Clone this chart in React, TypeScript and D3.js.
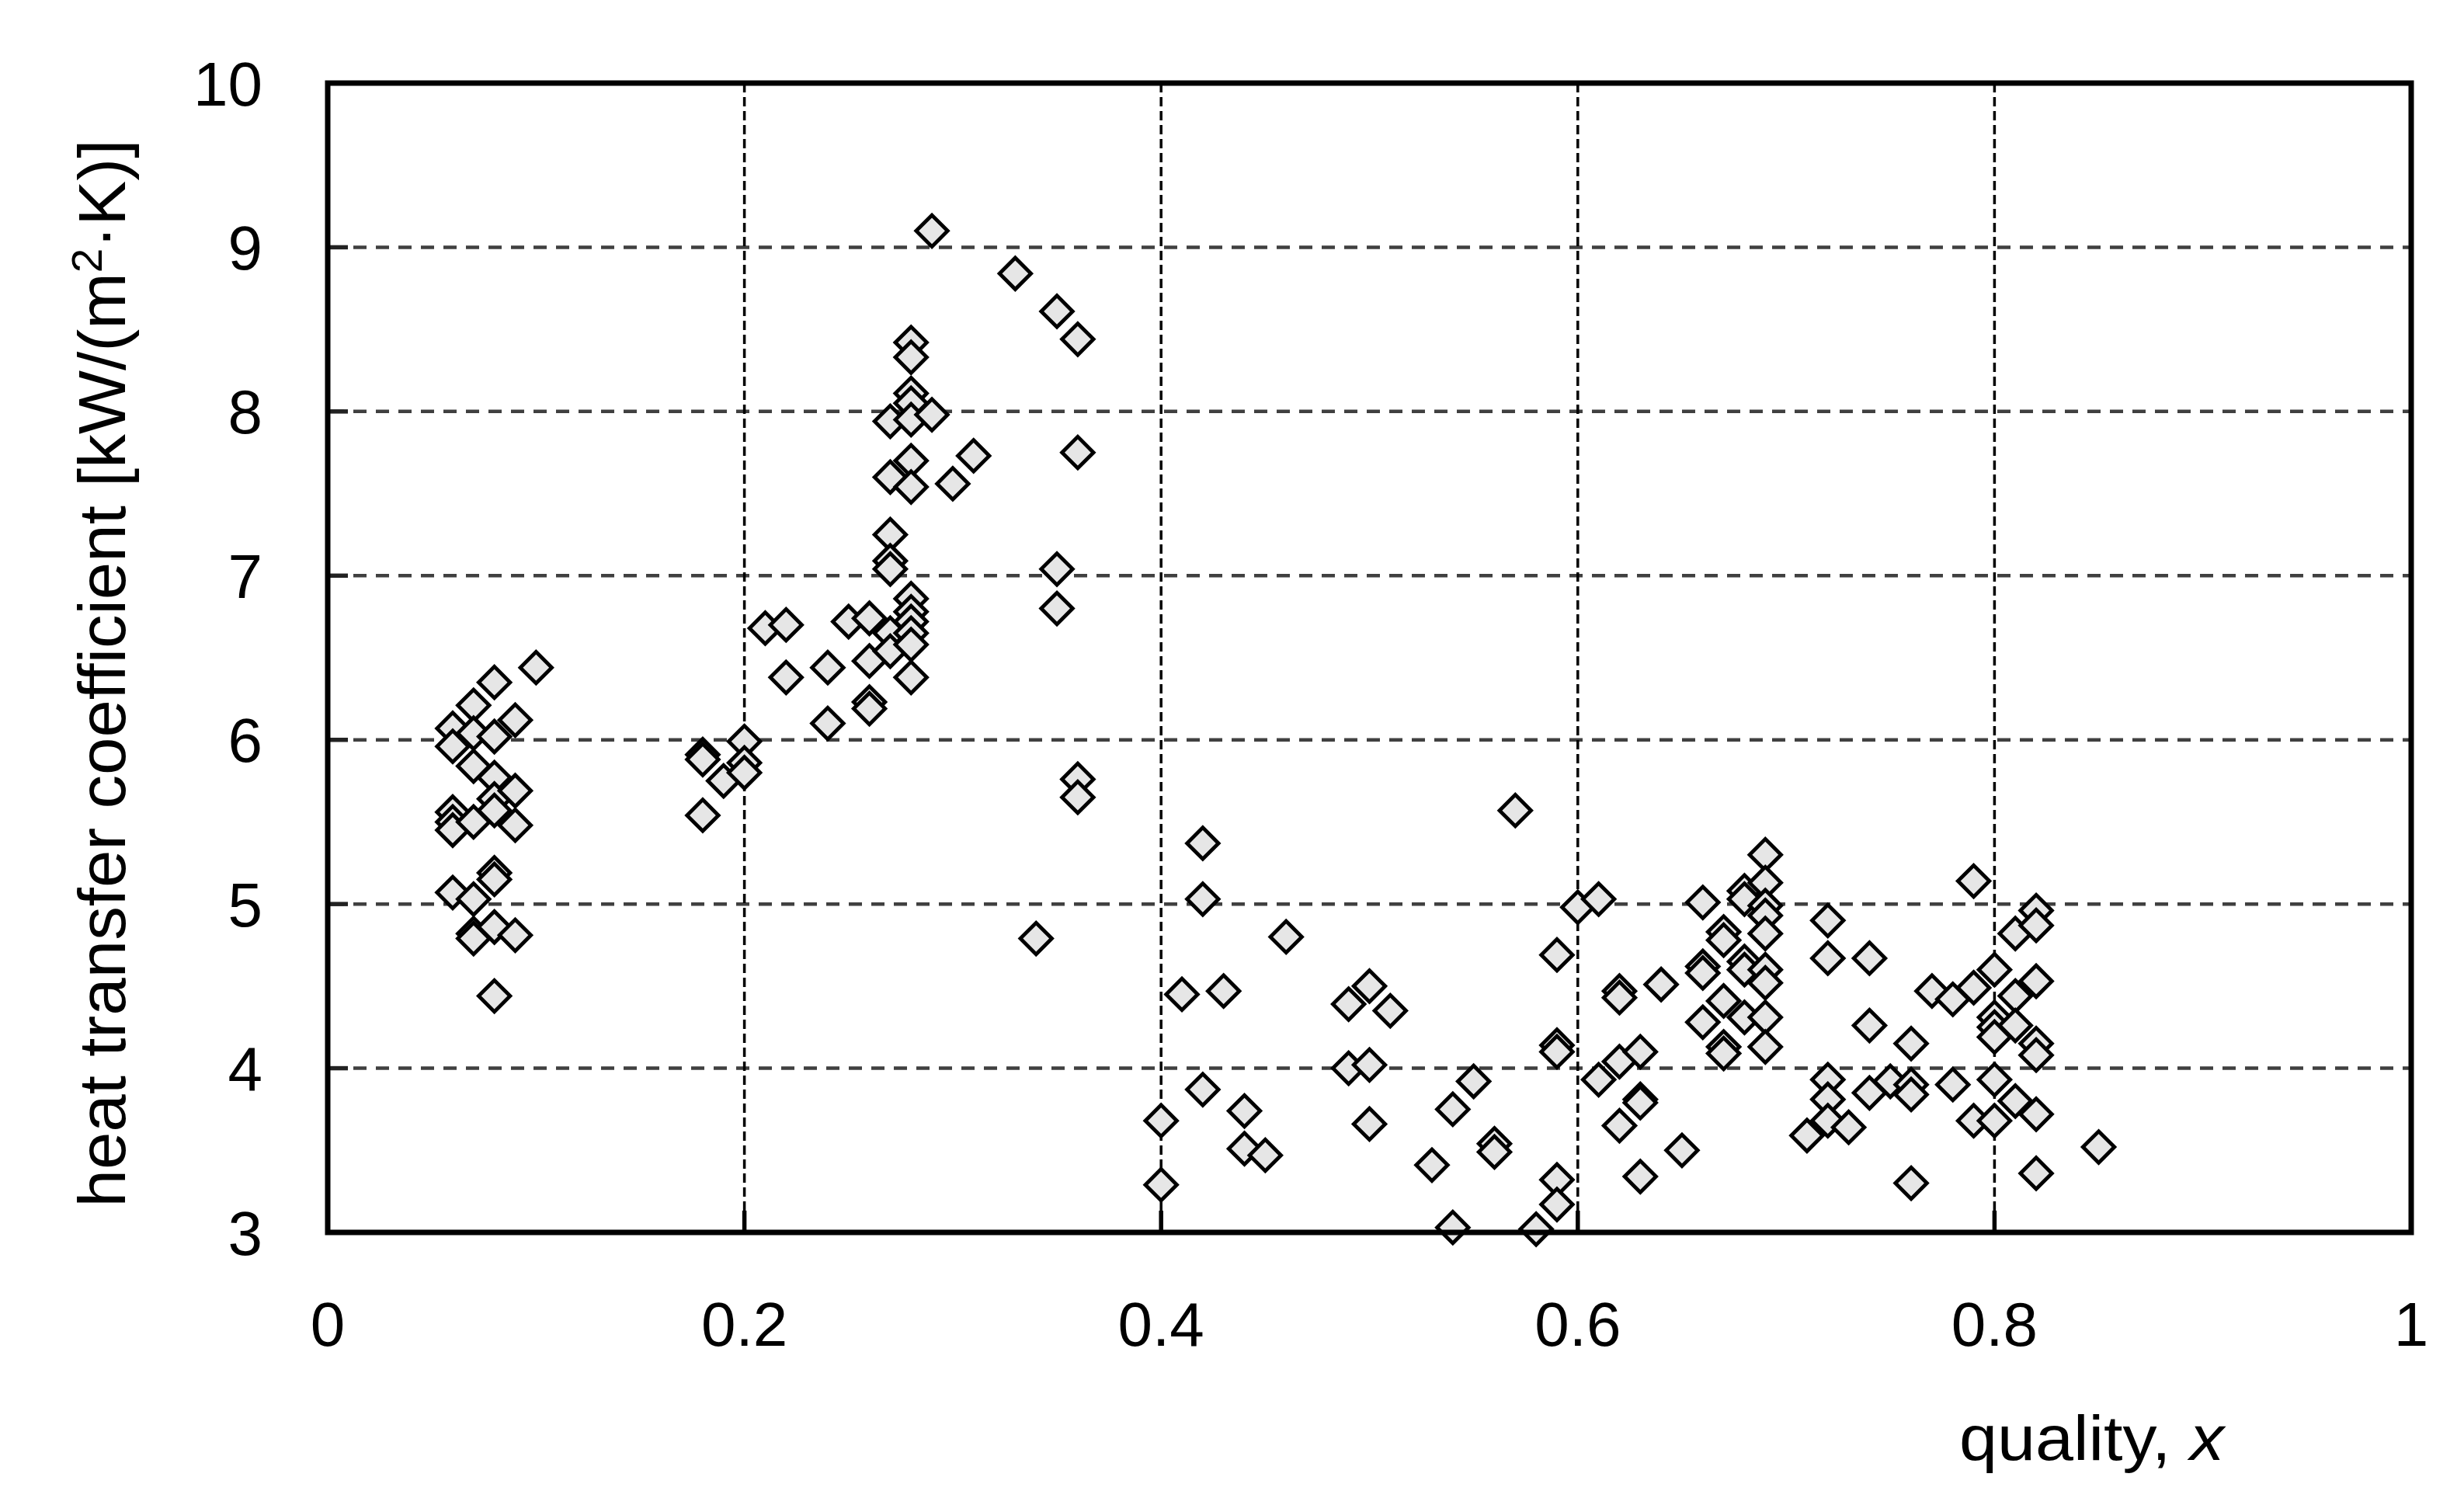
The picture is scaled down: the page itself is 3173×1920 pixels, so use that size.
import React from "react";
import * as d3 from "d3";

// quality x (discrete test qualities) and heat transfer coefficient readings
const quality: number[] = [
  0.06, 0.06, 0.06, 0.06, 0.06, 0.06,
  0.07, 0.07, 0.07, 0.07, 0.07, 0.07, 0.07,
  0.08, 0.08, 0.08, 0.08, 0.08, 0.08, 0.08, 0.08, 0.08,
  0.09, 0.09, 0.09, 0.09,
  0.10,
  0.18, 0.18, 0.18, 0.19, 0.20, 0.20, 0.20,
  0.21, 0.22, 0.22, 0.24, 0.24, 0.25,
  0.26, 0.26, 0.26, 0.26,
  0.27, 0.27, 0.27, 0.27, 0.27, 0.27, 0.27,
  0.28, 0.28, 0.28, 0.28, 0.28, 0.28, 0.28, 0.28, 0.28, 0.28, 0.28, 0.28, 0.28,
  0.29, 0.29, 0.30, 0.31, 0.33, 0.34,
  0.35, 0.35, 0.35, 0.36, 0.36, 0.36, 0.36,
  0.40, 0.40, 0.41, 0.42, 0.42, 0.42, 0.43, 0.44, 0.44, 0.45, 0.46,
  0.49, 0.49, 0.50, 0.50, 0.50, 0.51, 0.53, 0.54, 0.54, 0.55, 0.56, 0.56, 0.57, 0.58,
  0.59, 0.59, 0.59, 0.59, 0.59, 0.60, 0.61, 0.61,
  0.62, 0.62, 0.62, 0.62, 0.63, 0.63, 0.63, 0.63, 0.64, 0.65,
  0.66, 0.66, 0.66, 0.66,
  0.67, 0.67, 0.67, 0.67, 0.67,
  0.68, 0.68, 0.68, 0.68, 0.68,
  0.69, 0.69, 0.69, 0.69, 0.69, 0.69, 0.69, 0.69, 0.69,
  0.71, 0.72, 0.72, 0.72, 0.72, 0.72, 0.73,
  0.74, 0.74, 0.74, 0.75, 0.76, 0.76, 0.76, 0.76, 0.77, 0.78, 0.78,
  0.79, 0.79, 0.79,
  0.80, 0.80, 0.80, 0.80, 0.80, 0.80,
  0.81, 0.81, 0.81, 0.81,
  0.82, 0.82, 0.82, 0.82, 0.82, 0.82, 0.82,
  0.85,
];

const htc: number[] = [
  6.07, 5.96, 5.56, 5.50, 5.45, 5.07,
  6.21, 6.04, 5.84, 5.50, 5.03, 4.82, 4.79,
  6.35, 6.02, 5.77, 5.64, 5.57, 5.19, 5.15, 4.86, 4.44,
  6.12, 5.69, 5.48, 4.81,
  6.44,
  5.91, 5.88, 5.54, 5.75, 5.99, 5.86, 5.80,
  6.68, 6.70, 6.38, 6.44, 6.10, 6.72,
  6.74, 6.48, 6.23, 6.19,
  7.94, 7.60, 7.25, 7.09, 7.04, 6.65, 6.54,
  8.42, 8.33, 8.11, 8.05, 7.95, 7.70, 7.54, 6.86, 6.78, 6.72, 6.65, 6.58, 6.38,
  9.10, 7.98, 7.56, 7.73, 8.84, 4.79,
  8.61, 7.04, 6.80, 8.44, 7.75, 5.76, 5.65,
  3.68, 3.29, 4.45, 5.37, 5.03, 3.87, 4.47, 3.74, 3.51, 3.47, 4.80,
  4.39, 4.00, 4.50, 4.02, 3.66, 4.35, 3.41, 3.75, 3.03, 3.92, 3.54, 3.49, 5.57, 3.02,
  4.69, 4.14, 4.10, 3.32, 3.17, 4.98, 5.03, 3.93,
  4.47, 4.43, 4.04, 3.65, 4.10, 3.81, 3.79, 3.34, 4.51, 3.50,
  5.01, 4.62, 4.58, 4.28,
  4.83, 4.78, 4.41, 4.13, 4.09,
  5.08, 5.03, 4.65, 4.60, 4.31,
  5.30, 5.13, 4.99, 4.93, 4.82, 4.60, 4.52, 4.31, 4.13,
  3.59, 4.90, 4.67, 3.93, 3.81, 3.68, 3.64,
  4.67, 4.26, 3.85, 3.92, 4.15, 3.90, 3.84, 3.30, 4.47, 4.42, 3.90,
  5.14, 4.49, 3.68,
  4.60, 4.31, 4.25, 4.19, 3.93, 3.68,
  4.82, 4.44, 4.26, 3.80,
  4.96, 4.87, 4.53, 4.15, 4.08, 3.72, 3.36,
  3.52,
];

const xTicks: number[] = [0, 0.2, 0.4, 0.6, 0.8, 1];
const xTickLabels: string[] = ["0", "0.2", "0.4", "0.6", "0.8", "1"];
const yTicks: number[] = [3, 4, 5, 6, 7, 8, 9, 10];
const yTickLabels: string[] = ["3", "4", "5", "6", "7", "8", "9", "10"];

const W = 3173;
const H = 1920;
const FONT = "'Liberation Sans', Arial, sans-serif";

export default function App() {
  const x = d3.scaleLinear().domain([0, 1]).range([422, 3105]);
  const y = d3.scaleLinear().domain([3, 10]).range([1587, 107]);
  const [x0, x1] = x.range();
  const [y0, y1] = y.range();
  const diamond = d3.symbol(d3.symbolSquare, 820)() as string;

  return (
    <svg
      width={W}
      height={H}
      style={{ position: "absolute", left: 0, top: 0, display: "block", background: "#fff" }}
    >
      {/* horizontal gridlines */}
      {yTicks.slice(1, -1).map((v) => (
        <line
          key={"hg" + v}
          x1={x0 + 4}
          x2={x1}
          y1={y(v)}
          y2={y(v)}
          stroke="#404040"
          strokeWidth={4.5}
          strokeDasharray="17,12"
        />
      ))}
      {/* vertical gridlines */}
      {xTicks.slice(1, -1).map((v) => (
        <line
          key={"vg" + v}
          x1={x(v)}
          x2={x(v)}
          y1={y1}
          y2={y0}
          stroke="#000"
          strokeWidth={3.5}
          strokeDasharray="12,6"
        />
      ))}
      {/* data points */}
      {quality.map((q, i) => (
        <path
          key={"p" + i}
          d={diamond}
          transform={`translate(${x(q)},${y(htc[i])}) rotate(45)`}
          fill="#e6e6e6"
          stroke="#000"
          strokeWidth={4.8}
        />
      ))}
      {/* ticks */}
      {yTicks.slice(1, -1).map((v) => (
        <line key={"yt" + v} x1={x0} x2={x0 + 26} y1={y(v)} y2={y(v)} stroke="#222" strokeWidth={5.5} />
      ))}
      {xTicks.slice(1, -1).map((v) => (
        <line key={"xt" + v} x1={x(v)} x2={x(v)} y1={y0} y2={y0 - 28} stroke="#000" strokeWidth={5.5} />
      ))}
      {/* frame */}
      <rect x={x0} y={y1} width={x1 - x0} height={y0 - y1} fill="none" stroke="#000" strokeWidth={7} />
      {/* tick labels */}
      {yTicks.map((v, i) => (
        <text
          key={"yl" + v}
          x={338}
          y={y(v) + 28.6}
          textAnchor="end"
          fontFamily={FONT}
          fontSize={80}
          fill="#000"
        >
          {yTickLabels[i]}
        </text>
      ))}
      {xTicks.map((v, i) => (
        <text
          key={"xl" + v}
          x={x(v)}
          y={1733}
          textAnchor="middle"
          fontFamily={FONT}
          fontSize={80}
          fill="#000"
        >
          {xTickLabels[i]}
        </text>
      ))}
      {/* axis titles */}
      <text
        x={2523}
        y={1880}
        fontFamily={FONT}
        fontSize={82}
        fill="#000"
        textLength={341}
        lengthAdjust="spacingAndGlyphs"
      >
        quality, <tspan fontStyle="italic">x</tspan>
      </text>
      <text
        transform="translate(161,867) rotate(-90)"
        textAnchor="middle"
        fontFamily={FONT}
        fontSize={86}
        fill="#000"
        textLength={1375}
        lengthAdjust="spacingAndGlyphs"
      >
        heat transfer coefficient [kW/(m<tspan dy={-30} fontSize={56}>2</tspan>
        <tspan dy={30}>·K)]</tspan>
      </text>
    </svg>
  );
}
